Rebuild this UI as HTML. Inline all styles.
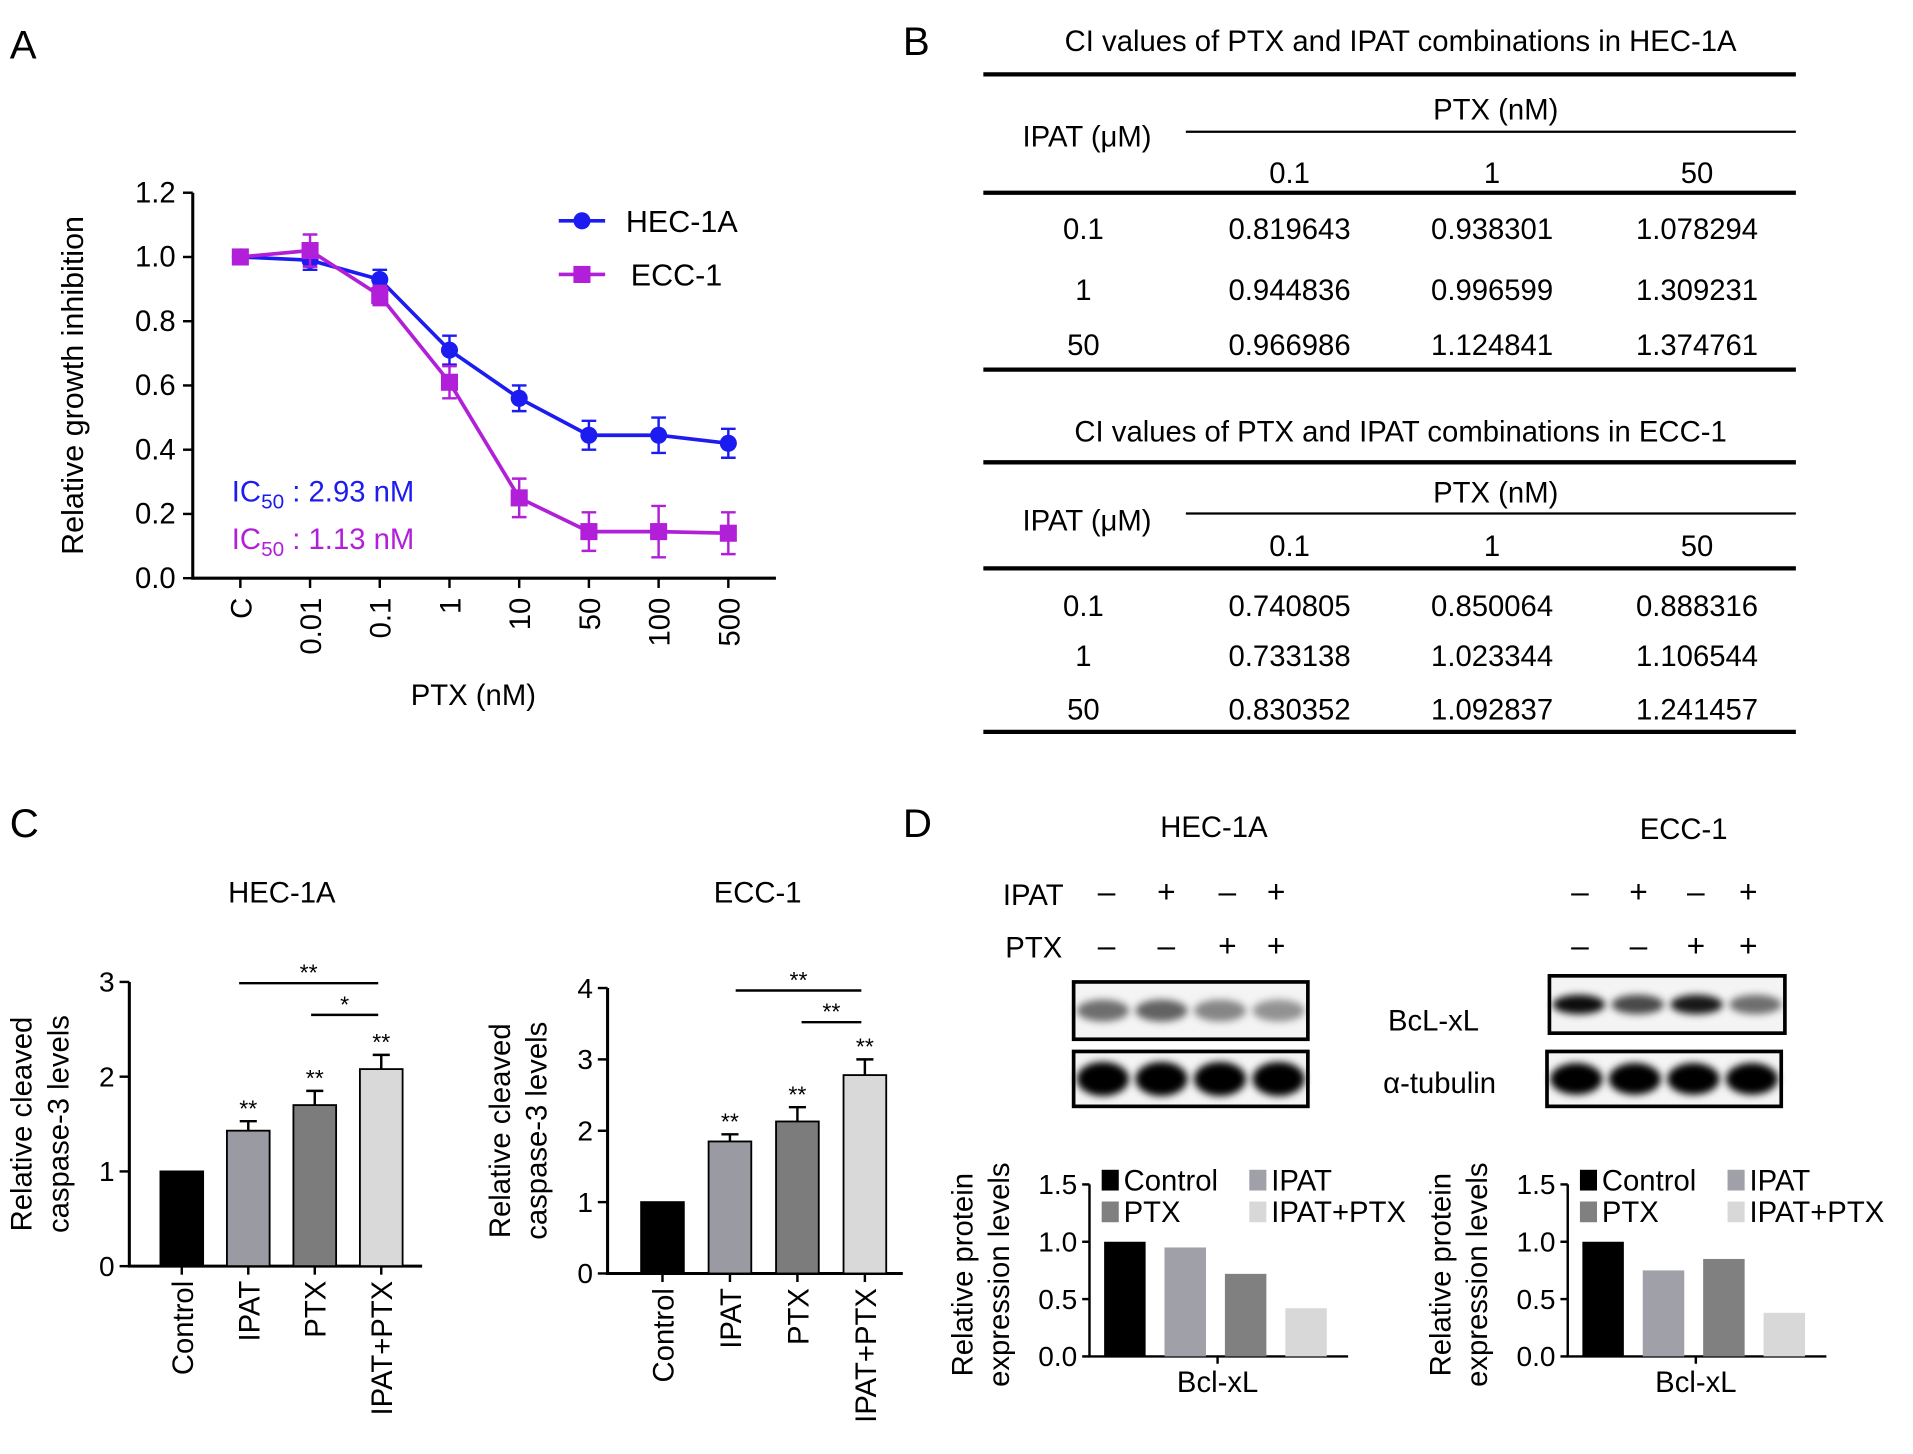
<!DOCTYPE html>
<html><head><meta charset="utf-8"><style>
html,body{margin:0;padding:0;background:#fff;}
svg{display:block;font-family:"Liberation Sans",sans-serif;}
</style></head><body>
<svg id="fig" width="1913" height="1454" viewBox="0 0 1568 1192" preserveAspectRatio="none" xmlns="http://www.w3.org/2000/svg">
<defs><filter id="blur" x="-20%" y="-50%" width="140%" height="200%"><feGaussianBlur stdDeviation="3"/></filter></defs>
<g id="panelA"></g>
<g id="panelB"></g>
<g id="panelC"></g>
<g id="panelD"></g>
</svg>
<script>
// ---- Panel A data ----
const aCategories = ["C","0.01","0.1","1","10","50","100","500"];
const aHecValues = [1.0,0.99,0.93,0.71,0.56,0.445,0.445,0.42];
const aHecErr = [0.01,0.03,0.03,0.045,0.04,0.045,0.055,0.045];
const aEccValues = [1.0,1.02,0.88,0.61,0.25,0.145,0.145,0.14];
const aEccErr = [0.01,0.05,0.03,0.05,0.06,0.06,0.08,0.065];
const aYTicks = ["0.0","0.2","0.4","0.6","0.8","1.0","1.2"];
// ---- Panel B data ----
const bHecRows = ["0.1","1","50"];
const bHecVals = [["0.819643","0.938301","1.078294"],["0.944836","0.996599","1.309231"],["0.966986","1.124841","1.374761"]];
const bEccVals = [["0.740805","0.850064","0.888316"],["0.733138","1.023344","1.106544"],["0.830352","1.092837","1.241457"]];
const bCols = ["0.1","1","50"];
// ---- Panel C data ----
const cCategories = ["Control","IPAT","PTX","IPAT+PTX"];
const cHecValues = [1.0,1.43,1.7,2.08];
const cHecErr = [0,0.1,0.15,0.15];
const cEccValues = [1.0,1.85,2.13,2.78];
const cEccErr = [0,0.1,0.2,0.22];
// ---- Panel D data ----
const dGroups = ["Control","IPAT","PTX","IPAT+PTX"];
const dHecValues = [1.0,0.95,0.72,0.42];
const dEccValues = [1.0,0.75,0.85,0.38];
const dTicks = ["0.0","0.5","1.0","1.5"];

const NS="http://www.w3.org/2000/svg";
function el(parent,tag,attrs,text){const e=document.createElementNS(NS,tag);for(const k in attrs)e.setAttribute(k,attrs[k]);if(text!==undefined)e.textContent=text;parent.appendChild(e);return e;}

// ===== Panel A =====
(function(){
const g=document.getElementById('panelA');
const t=el(g,'text',{x:8,y:48,'font-size':33},'A');


const x0=158,yb=474,yt=158,ymax=1.2;
const y=v=>yb-(v/ymax)*(yb-yt);
const x=i=>197+i*57.14;
const ax=el(g,'path',{d:`M${x0} ${yt}V${yb}H636`,stroke:'#000','stroke-width':2.5,fill:'none'});


aYTicks.forEach((lab,i)=>{const v=parseFloat(lab);
el(g,'line',{x1:x0-8,x2:x0,y1:y(v),y2:y(v),stroke:'#000','stroke-width':2});
const tt=el(g,'text',{x:x0-14,y:y(v)+8,'font-size':24,'text-anchor':'end'},lab);

});
aCategories.forEach((c,i)=>{el(g,'line',{x1:x(i),x2:x(i),y1:yb,y2:yb+8,stroke:'#000','stroke-width':2});
const tt=el(g,'text',{transform:`translate(${x(i)+9},${yb+16}) rotate(-90)`,'font-size':24,'text-anchor':'end'},c);

});
const yt1=el(g,'text',{transform:'translate(68,316) rotate(-90)','font-size':25,'text-anchor':'middle'},'Relative growth inhibition');


const xt=el(g,'text',{x:388,y:578,'font-size':24,'text-anchor':'middle'},'PTX (nM)');


function series(vals,errs,color,shape,name){
 const sg=el(g,'g',{});
 
 
 el(sg,'polyline',{points:vals.map((v,i)=>`${x(i)},${y(v)}`).join(' '),fill:'none',stroke:color,'stroke-width':3});
 vals.forEach((v,i)=>{const e=errs[i];
  el(sg,'path',{d:`M${x(i)} ${y(v+e)}V${y(v-e)}M${x(i)-6} ${y(v+e)}h12M${x(i)-6} ${y(v-e)}h12`,stroke:color,'stroke-width':2,fill:'none'});
  const m= shape==='c'?el(sg,'circle',{cx:x(i),cy:y(v),r:7,fill:color}):el(sg,'rect',{x:x(i)-7,y:y(v)-7,width:14,height:14,fill:color});
  
  });
}
series(aHecValues,aHecErr,'#1c1cf0','c','hec-1a-series');
series(aEccValues,aEccErr,'#b21fd8','s','ecc-1-series');
const lg=el(g,'g',{});


el(lg,'line',{x1:458,x2:496,y1:181,y2:181,stroke:'#1c1cf0','stroke-width':3});
el(lg,'circle',{cx:477,cy:181,r:7,fill:'#1c1cf0'});
el(lg,'text',{x:513,y:190,'font-size':25},'HEC-1A');
el(lg,'line',{x1:458,x2:496,y1:225,y2:225,stroke:'#b21fd8','stroke-width':3});
el(lg,'rect',{x:470,y:218,width:14,height:14,fill:'#b21fd8'});
el(lg,'text',{x:517,y:234,'font-size':25},'ECC-1');
const i1=el(g,'text',{x:190,y:411,'font-size':24,fill:'#1c1cf0'});
i1.innerHTML='IC<tspan font-size="17" dy="6">50</tspan><tspan dy="-6"> : 2.93 nM</tspan>';


const i2=el(g,'text',{x:190,y:450,'font-size':24,fill:'#b21fd8'});
i2.innerHTML='IC<tspan font-size="17" dy="6">50</tspan><tspan dy="-6"> : 1.13 nM</tspan>';


})();

// ===== Panel B =====
(function(){
const g=document.getElementById('panelB');
const t=el(g,'text',{x:740,y:45,'font-size':33},'B');


const colX=[1057,1223,1391];
function table(top,title,vals,name,L){
 const tg=el(g,'g',{});
 
 
 el(tg,'text',{x:1148,y:top,'font-size':24,'text-anchor':'middle'},title);
 el(tg,'line',{x1:806,x2:1472,y1:L[0],y2:L[0],stroke:'#000','stroke-width':3.5});
 el(tg,'text',{x:1226,y:L[1],'font-size':24,'text-anchor':'middle'},'PTX (nM)');
 el(tg,'line',{x1:972,x2:1472,y1:L[2],y2:L[2],stroke:'#000','stroke-width':1.8});
 el(tg,'text',{x:891,y:L[3],'font-size':24,'text-anchor':'middle'},'IPAT (μM)');
 bCols.forEach((c,i)=>el(tg,'text',{x:colX[i],y:L[4],'font-size':24,'text-anchor':'middle'},c));
 el(tg,'line',{x1:806,x2:1472,y1:L[5],y2:L[5],stroke:'#000','stroke-width':3.5});
 bHecRows.forEach((r,ri)=>{el(tg,'text',{x:888,y:L[6+ri],'font-size':24,'text-anchor':'middle'},r);
  vals[ri].forEach((v,ci)=>el(tg,'text',{x:colX[ci],y:L[6+ri],'font-size':24,'text-anchor':'middle'},v));});
 el(tg,'line',{x1:806,x2:1472,y1:L[9],y2:L[9],stroke:'#000','stroke-width':3.5});
}
table(42,'CI values of PTX and IPAT combinations in HEC-1A',bHecVals,'ci-table-hec-1a',[61,98,108,120,150,158,196,246,291,303]);
table(362,'CI values of PTX and IPAT combinations in ECC-1',bEccVals,'ci-table-ecc-1',[379,412,421,435,456,466,505,546,590,600]);
})();

// ===== Panel C =====
(function(){
const g=document.getElementById('panelC');
const t=el(g,'text',{x:8,y:686,'font-size':33},'C');


const fills=['#000','#9a9aa2','#7c7c7c','#d9d9d9'];
function chart(o){
 const cg=el(g,'g',{});
 
 
 const y=v=>o.yb-(v/o.max)*(o.yb-o.yt);
 el(cg,'text',{x:o.tx,y:740,'font-size':24,'text-anchor':'middle'},o.title);
 el(cg,'path',{d:`M${o.x0} ${o.yt}V${o.yb}H${o.xe}`,stroke:'#000','stroke-width':2.5,fill:'none'});
 for(let v=0;v<=o.max;v++){el(cg,'line',{x1:o.x0-8,x2:o.x0,y1:y(v),y2:y(v),stroke:'#000','stroke-width':2});
  el(cg,'text',{x:o.x0-12,y:y(v)+8,'font-size':23,'text-anchor':'end'},String(v));}
 el(cg,'text',{transform:`translate(${o.x0-80},${(o.yt+o.yb)/2}) rotate(-90)`,'font-size':24,'text-anchor':'middle'},'Relative cleaved');
 el(cg,'text',{transform:`translate(${o.x0-50},${(o.yt+o.yb)/2}) rotate(-90)`,'font-size':24,'text-anchor':'middle'},'caspase-3 levels');
 o.vals.forEach((v,i)=>{const cx=o.bx+i*o.step,w=35;
  const b=el(cg,'rect',{x:cx-w/2,y:y(v),width:w,height:o.yb-y(v),fill:fills[i],stroke:'#000','stroke-width':1.5});
  
  
  const e=o.err[i];
  if(e>0){el(cg,'path',{d:`M${cx} ${y(v)}V${y(v+e)}M${cx-7} ${y(v+e)}h14`,stroke:'#000','stroke-width':2,fill:'none'});
   el(cg,'text',{x:cx,y:y(v+e)-4,'font-size':19,'text-anchor':'middle'},'**');}
  el(cg,'line',{x1:cx,x2:cx,y1:o.yb,y2:o.yb+7,stroke:'#000','stroke-width':2});
  el(cg,'text',{transform:`translate(${cx+9},${o.yb+12}) rotate(-90)`,'font-size':24,'text-anchor':'end'},cCategories[i]);});
 o.sig.forEach(s=>{el(cg,'line',{x1:s[0],x2:s[1],y1:s[2],y2:s[2],stroke:'#000','stroke-width':2});
  el(cg,'text',{x:(s[0]+s[1])/2,y:s[2]-2,'font-size':19,'text-anchor':'middle'},s[3]);});
}
chart({name:'c-hec-1a-chart',title:'HEC-1A',tx:231,x0:106,xe:346,yt:805,yb:1038,max:3,bx:149,step:54.5,vals:cHecValues,err:cHecErr,sig:[[196,310,806,'**'],[255,310,832,'*']]});
chart({name:'c-ecc-1-chart',title:'ECC-1',tx:621,x0:498,xe:740,yt:810,yb:1044,max:4,bx:543,step:55.3,vals:cEccValues,err:cEccErr,sig:[[603,706,812,'**'],[657,706,838,'**']]});
})();

// ===== Panel D =====
(function(){
const g=document.getElementById('panelD');
const t=el(g,'text',{x:740,y:686,'font-size':33},'D');


el(g,'text',{x:995,y:686,'font-size':24,'text-anchor':'middle'},'HEC-1A');
el(g,'text',{x:1380,y:688,'font-size':24,'text-anchor':'middle'},'ECC-1');
el(g,'text',{x:822,y:742,'font-size':24},'IPAT');
el(g,'text',{x:824,y:785,'font-size':24},'PTX');
const ipat=['–','+','–','+'],ptx=['–','–','+','+'];
[[907,956,1006,1046],[1295,1343,1390,1433]].forEach(xs=>xs.forEach((xx,i)=>{
 el(g,'text',{x:xx,y:740,'font-size':26,'text-anchor':'middle'},ipat[i]);
 el(g,'text',{x:xx,y:784,'font-size':26,'text-anchor':'middle'},ptx[i]);}));
function blot(x,y,w,h,ints,name,bandH){
 const bg=el(g,'g',{});
 
 
 el(bg,'rect',{x:x,y:y,width:w,height:h,fill:'#f4f4f4'});
 ints.forEach((a,i)=>{const cx=x+w*(i+0.5)/4;
  el(bg,'ellipse',{cx:cx,cy:y+h/2,rx:w/9,ry:bandH,fill:`rgba(0,0,0,${a})`,filter:'url(#blur)'});});
 el(bg,'rect',{x:x,y:y,width:w,height:h,fill:'none',stroke:'#000','stroke-width':3});
}
blot(880,805,192,47,[0.55,0.6,0.45,0.4],'hec-bcl-xl-blot',9);
blot(880,862,192,45,[1,1,1,1],'hec-tubulin-blot',14);
blot(1270,800,193,47,[0.95,0.7,0.9,0.55],'ecc-bcl-xl-blot',8);
blot(1268,862,192,45,[1,1,1,1],'ecc-tubulin-blot',13);
el(g,'text',{x:1175,y:845,'font-size':24,'text-anchor':'middle'},'BcL-xL');
el(g,'text',{x:1180,y:896,'font-size':24,'text-anchor':'middle'},'α-tubulin');
const fills=['#000','#a0a0a8','#808080','#d8d8d8'];
function bars(o){
 const cg=el(g,'g',{});
 
 
 const yt=971,yb=1112,y=v=>yb-(v/1.5)*(yb-yt);
 el(cg,'path',{d:`M${o.x0} ${yt}V${yb}H${o.x0+212}`,stroke:'#000','stroke-width':2,fill:'none'});
 dTicks.forEach(l=>{const v=parseFloat(l);el(cg,'line',{x1:o.x0-6,x2:o.x0,y1:y(v),y2:y(v),stroke:'#000','stroke-width':2});
  el(cg,'text',{x:o.x0-10,y:y(v)+8,'font-size':23,'text-anchor':'end'},l);});
 el(cg,'line',{x1:o.x0+105,x2:o.x0+105,y1:yb,y2:yb+6,stroke:'#000','stroke-width':2});
 el(cg,'text',{x:o.x0+105,y:1141,'font-size':24,'text-anchor':'middle'},'Bcl-xL');
 el(cg,'text',{transform:`translate(${o.x0-96},1045) rotate(-90)`,'font-size':24,'text-anchor':'middle'},'Relative protein');
 el(cg,'text',{transform:`translate(${o.x0-66},1045) rotate(-90)`,'font-size':24,'text-anchor':'middle'},'expression levels');
 o.vals.forEach((v,i)=>{const bx=o.x0+12+i*49.5;
  const b=el(cg,'rect',{x:bx,y:y(v),width:34,height:yb-y(v),fill:fills[i]});
  
  });
 const lp=[[0,0],[1,0],[0,1],[1,1]];
 [0,1,2,3].forEach(i=>{const lx=o.x0+10+lp[i][0]*121,ly=959+lp[i][1]*26;
  el(cg,'rect',{x:lx,y:ly,width:14,height:17,fill:fills[i]});
  el(cg,'text',{x:lx+18,y:ly+17,'font-size':24},dGroups[i]);});
}
bars({name:'d-hec-1a-bar-chart',x0:893,vals:dHecValues});
bars({name:'d-ecc-1-bar-chart',x0:1285,vals:dEccValues});
})();
</script>
</body></html>
